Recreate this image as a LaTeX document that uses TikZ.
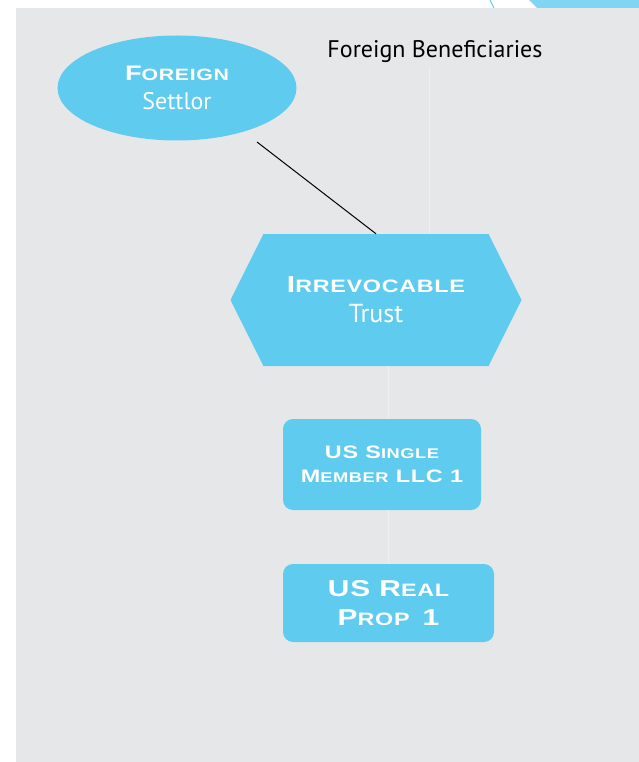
\documentclass[tikz,border=0pt]{standalone}
\usepackage{fontspec}
\setmainfont{PT Sans}
\newfontfamily\capsfont{Liberation Sans}[FakeStretch=1.3,LetterSpace=4]
\usetikzlibrary{shapes.geometric,shapes.symbols}
\definecolor{panelgrey}{HTML}{E6E7E9}
\definecolor{entityblue}{HTML}{5FCBEF}
\makeatletter
\newcommand\smc[1]{{\fontsize{\strip@pt\dimexpr0.78\dimexpr\f@size pt\relax\relax}{\f@baselineskip}\selectfont#1}}
\makeatother
\newcommand\capsline[2]{{\capsfont\bfseries\fontsize{#1}{#1}\selectfont #2}}
\newcommand\plainline[2]{{\fontsize{#1}{#1}\selectfont #2}}

\begin{document}
\begin{tikzpicture}[x=1pt,y=-1pt]
    \tikzset{
        entity/.style={
            fill=entityblue,text=white,align=center,inner sep=0pt
        },
        entitybox/.style={
            entity,rounded corners=10pt
        },
        faintlink/.style={draw=white!35!panelgrey,line width=1pt},
        settlorlink/.style={draw=black,line width=1pt}
    }
    \useasboundingbox (0,0) rectangle (639,762);
    \fill[panelgrey] (16,8) rectangle (639,762);

    % corner of the next panel
    \fill[entityblue!80!white] (529,0) -- (639,0) -- (639,8) -- (537,8) -- cycle;
    \draw[entityblue,line width=1pt] (490,0) -- (494,8);

    \node[entity,ellipse,minimum width=239,minimum height=105,
        font=\fontsize{22}{29}\selectfont] (settlor) at (177,88)
        {\capsline{21}{F\smc{OREIGN}}\\\plainline{24}{Settlor}};

    \node[font=\fontsize{24}{28}\selectfont] (benef) at (435,52)
        {Foreign Beneficiaries};

    \node[entity,signal,signal to=west and east,signal pointer angle=127,
        minimum width=291,minimum height=132,
        font=\fontsize{22}{30}\selectfont] (trust) at (376,300)
        {\capsline{23}{I\smc{RREVOCABLE}}\\\plainline{26}{Trust}};

    \node[entitybox,minimum width=198,minimum height=91,
        font=\fontsize{16}{24}\selectfont] (llc) at (382,464.5)
        {\capsline{18}{US S\smc{INGLE}}\\\capsline{18}{M\smc{EMBER} LLC 1}};

    \node[entitybox,minimum width=211,minimum height=78,
        font=\fontsize{20}{29}\selectfont] (prop) at (388.5,603)
        {\capsline{23}{US R\smc{EAL}}\\\capsline{23}{P\smc{ROP} \,1}};

    \coordinate (settlorend) at (257,142);
    \draw[settlorlink] (settlorend) -- (trust.north);

    \draw[faintlink] ([xshift=-6pt]benef.south) -- ([xshift=-6pt]benef.south |- trust.north);
    \draw[faintlink] (prop.north |- trust.south) -- (prop.north |- llc.north);
    \draw[faintlink] (prop.north |- llc.south) -- (prop.north);
\end{tikzpicture}
\end{document}
